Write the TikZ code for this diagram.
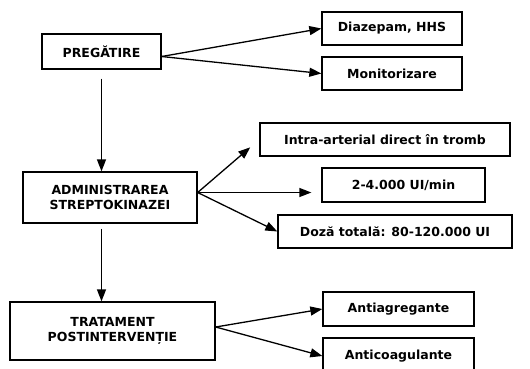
\documentclass[tikz,border=0pt]{standalone}
\usepackage{fontspec}
\setmainfont{DejaVu Sans}
\usetikzlibrary{positioning,calc,arrows.meta}

\begin{document}
\begin{tikzpicture}[x=1pt,y=-1pt,font=\bfseries\fontsize{12.5}{15}\selectfont,
          >={Triangle[length=12pt,width=9pt]},line width=1.3pt,
          box/.style ={draw,align=center,inner sep=2pt},
          step1/.style={box,minimum width=119pt,minimum height=35pt},
          side/.style={box,minimum height=33pt}]
        \useasboundingbox (0,0) rectangle (530,368);
        % left column
        \node[step1] (prep) at (101.5,51.5) {PREGĂTIRE};
        \node[box,minimum width=174pt,minimum height=51pt] (admin) at (110,197.5) {ADMINISTRAREA\\STREPTOKINAZEI};
        \node[box,minimum width=205pt,minimum height=58pt] (trat) at (112.5,331) {TRATAMENT\\POSTINTERVENȚIE};
        % right column
        \node[side,minimum width=140pt] (diaz) at (392,28.5) {Diazepam, HHS};
        \node[side,minimum width=140pt] (monit) at (392,73.5) {Monitorizare};
        \node[side,minimum width=250pt] (intra) at (385,139.5) {Intra-arterial direct în tromb};
        \node[side,minimum width=163pt,minimum height=34pt] (doses) at (403.5,185) {2-4.000 UI/min};
        \node[side,minimum width=234pt] (total) at (395,231.5) {Doză totală: 80-120.000 UI};
        \node[side,minimum width=151pt,minimum height=34pt] (antia) at (398.5,309) {Antiagregante};
        \node[side,minimum width=151pt,minimum height=36pt] (antic) at (398.5,356) {Anticoagulante};
        % branch points
        \coordinate (po) at ($(prep.east)+(0,5)$);
        \coordinate (ao) at ($(admin.east)+(0,-5)$);
        \coordinate (to) at ($(trat.east)+(0,-4)$);
        \draw[->] (po) -- (diaz.west);
        \draw[->] (po) -- (monit.west);
        \draw[->] ($(prep.south)+(0,9)$) -- (prep.south |- admin.north);
        \draw[->,shorten >=12pt] (ao) -- (intra.west);
        \draw[->,shorten >=10pt] (ao) -- (ao -| doses.west);
        \draw[->] (ao) -- (total.west);
        \draw[->] (prep.south |- admin.south) ++(0,5) -- (prep.south |- trat.north);
        \draw[->] (to) -- (antia.west);
        \draw[->] (to) -- (antic.west);
      \end{tikzpicture}
\end{document}
